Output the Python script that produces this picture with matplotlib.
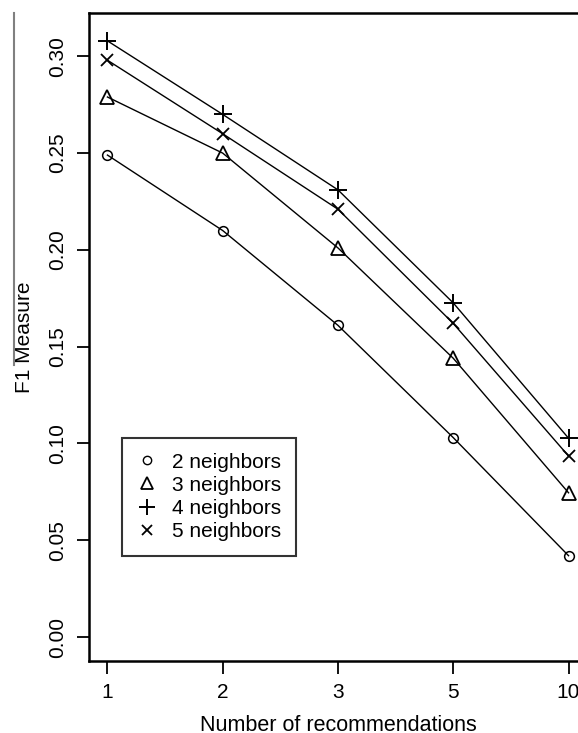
import numpy as np
import matplotlib.pyplot as plt
from matplotlib.lines import Line2D

plt.rcParams['font.family'] = ['Liberation Sans', 'DejaVu Sans']

# number of recommendations (evenly spaced categories)
recs = ['1', '2', '3', '5', '10']
n2 = [0.249, 0.210, 0.161, 0.103, 0.042]
n3 = [0.279, 0.250, 0.201, 0.144, 0.0745]
n4 = [0.308, 0.270, 0.231, 0.1726, 0.1027]
n5 = [0.298, 0.260, 0.221, 0.162, 0.0935]
labels = ['2 neighbors', '3 neighbors', '4 neighbors', '5 neighbors']

W, H = 578, 733
fig = plt.figure(figsize=(W / 100, H / 100), dpi=100)
# axes box runs past the right edge of the picture (cropped)
ax = fig.add_axes([89 / W, 1 - 661 / H, (587 - 89) / W, (661 - 13) / H])

x = np.arange(1, len(recs) + 1)
ax.plot(x, n2, color='black', lw=1, marker='o', ms=7, mfc='none', mew=1.1)
ax.plot(x, n3, color='black', lw=1, marker='^', ms=10, mfc='none', mew=1.3)
ax.plot(x, n4, color='black', lw=1, marker='+', ms=13, mew=1.4)
ax.plot(x, n5, color='black', lw=1, marker='x', ms=9, mew=1.3)

ax.set_xlim(0.84, 5.16)
ax.set_ylim(-0.0124, 0.3224)
ax.set_xticks(x)
ax.set_xticklabels(recs)
ax.set_yticks([0.0, 0.05, 0.10, 0.15, 0.20, 0.25, 0.30])
ax.set_yticklabels(['0.00', '0.05', '0.10', '0.15', '0.20', '0.25', '0.30'],
                   rotation=90, va='center')
ax.tick_params(axis='both', length=9, width=1.3, labelsize=15, pad=7)
for s in ax.spines.values():
    s.set_linewidth(1.8)

ax.set_xlabel('Number of recommendations', fontsize=15.5, labelpad=9)
ax.set_ylabel('F1 Measure', fontsize=15, labelpad=10)

handles = [
    Line2D([], [], ls='none', color='black', marker='o', ms=6, mfc='none'),
    Line2D([], [], ls='none', color='black', marker='^', ms=8, mfc='none', mew=1.3),
    Line2D([], [], ls='none', color='black', marker='+', ms=12, mew=1.4),
    Line2D([], [], ls='none', color='black', marker='x', ms=7, mew=1.3),
]
leg = ax.legend(handles, labels, loc='upper left',
                bbox_to_anchor=((122 - 89) / (587 - 89), (661 - 438) / (661 - 13)),
                fontsize=15, frameon=True, fancybox=False, edgecolor='black',
                labelspacing=0.2, handlelength=1.0, handletextpad=0.7,
                borderpad=0.7, borderaxespad=0)
leg.get_frame().set_linewidth(1.5)

# stray gray rule on the left edge of the scan
fig.add_artist(Line2D([14 / W, 14 / W], [1 - 13 / H, 1 - 365 / H],
                      color='gray', lw=1.5))

fig.savefig('out.png', dpi=100)
